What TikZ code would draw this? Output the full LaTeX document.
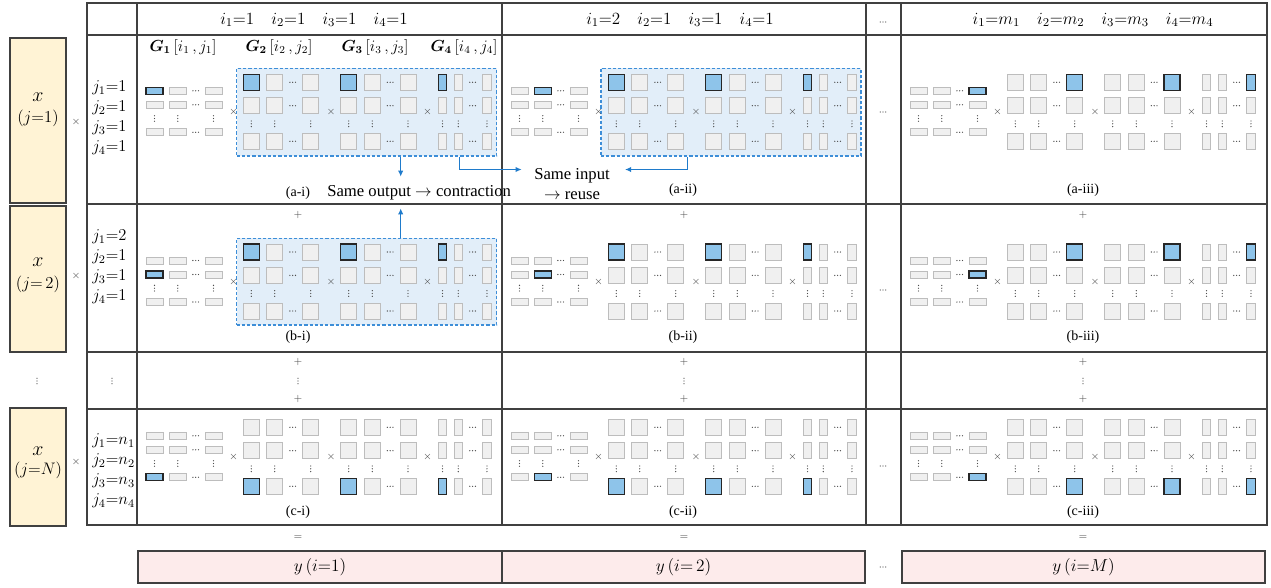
\RequirePackage{fix-cm}
\documentclass[tikz,border=0pt]{standalone}
\usepackage{amsmath}
\usepackage[no-math]{fontspec}
\setmainfont{Liberation Serif}
\usetikzlibrary{arrows.meta,fit}
\definecolor{hlblue}{HTML}{8EC4EA}
\definecolor{cellgray}{HTML}{F0F0F0}
\definecolor{cellline}{HTML}{BDBDBD}
\definecolor{dboxfill}{HTML}{E2EEF9}
\definecolor{dboxline}{HTML}{3D8ED8}
\definecolor{arrblue}{HTML}{1F7BCB}
\definecolor{xfill}{HTML}{FFF3D5}
\definecolor{yfill}{HTML}{FDEBEB}
\definecolor{tline}{HTML}{404040}
\tikzset{
 gcell/.style={fill=cellgray,draw=cellline,line width=0.75pt},
 hcell/.style={fill=hlblue,draw=black!85,line width=0.9pt},
 dbox/.style={draw=dboxline,fill=dboxfill,dash pattern=on 2.4pt off 1.5pt,line width=0.8pt,inner sep=0pt},
 arr/.style={draw=arrblue,line width=0.9pt,-{Latex[length=4.5pt,width=4pt]}},
 tab/.style={draw=tline,line width=1.1pt},
 xbox/.style={fill=xfill,draw=tline,line width=0.9pt},
 ybox/.style={fill=yfill,draw=tline,line width=1pt},
 dotc/.style={fill=black!70},
 sym/.style={text=black!70,font=\fontsize{7.5}{9}\selectfont,inner sep=0pt},
 hdr/.style={font=\fontsize{12.8}{14}\selectfont,inner sep=0pt},
 jlab/.style={font=\fontsize{12.4}{14}\selectfont,inner sep=0pt,anchor=west},
 glab/.style={font=\fontsize{12}{14}\selectfont,inner sep=0pt},
 xbig/.style={font=\fontsize{15}{16}\selectfont,inner sep=0pt},
 xsm/.style={font=\fontsize{12.5}{14}\selectfont,inner sep=0pt},
 clab/.style={font=\fontsize{10.5}{12}\selectfont,inner sep=0pt},
 note/.style={font=\fontsize{12.5}{14}\selectfont,inner sep=0pt},
 ylab/.style={font=\fontsize{13}{14}\selectfont,inner sep=0pt},
}
\newcommand\vdt[2]{\fill[dotc] ({#1},{#2-2.8}) circle (0.5pt) ({#1},{#2}) circle (0.5pt) ({#1},{#2+2.8}) circle (0.5pt);}
\newcommand\hdt[2]{\fill[dotc] ({#1-2.8},{#2}) circle (0.5pt) ({#1},{#2}) circle (0.5pt) ({#1+2.8},{#2}) circle (0.5pt);}
% #1 cell left, #2 top of G2 first row, #3/#4 G1 highlight row/col, #5/#6 G2-4 highlight row/col
\newcommand\mcell[6]{%
 \foreach \ci/\cx in {1/9,2/32.3,3/68}{%
  \foreach \rr/\ry in {1/13,2/27,3/54.5}{%
   \ifnum\rr=#3\relax\ifnum\ci=#4\relax\def\sty{hcell}\else\def\sty{gcell}\fi\else\def\sty{gcell}\fi
   \path[\sty] ({#1+\cx},{#2+\ry}) rectangle ++(17,7);
  }%
  \vdt{#1+\cx+8.5}{#2+44.2}%
 }%
 \foreach \ry in {16.5,30.5,58}{\hdt{#1+58.7}{#2+\ry}}%
 \foreach \mx/\mw/\ca/\cb/\cz in {106.3/16/0/23.4/59.4,203.7/16/0/23.6/59.3,301.3/8.5/0/15.7/44.4}{%
  \foreach \kk/\ox in {1/\ca,2/\cb,3/\cz}{%
   \foreach \rr/\ry in {1/0,2/23.4,3/59}{%
     \ifnum\rr=#5\relax\ifnum\kk=#6\relax\def\sty{hcell}\else\def\sty{gcell}\fi\else\def\sty{gcell}\fi
     \path[\sty] ({#1+\mx+\ox},{#2+\ry}) rectangle ++(\mw,16);
   }%
   \vdt{#1+\mx+\ox+\mw/2}{#2+49.5}%
  }%
  \foreach \ry in {8,31.4,67}{\hdt{#1+\mx+(\cb+\mw+\cz)/2}{#2+\ry}}%
 }%
 \foreach \xx [count=\n] in {96.5,194,290.7}{\node[sym] (tm\n) at ({#1+\xx},{#2+38}) {$\times$};}%
}
\begin{document}
\begin{tikzpicture}[x=0.75pt,y=-0.75pt]
\useasboundingbox (0,0) rectangle (1271,587);
% table
\draw[tab] (87,3) rectangle (1267,525);
\foreach \yy in {35,204,352,409} \draw[tab] (87,\yy) -- (1267,\yy);
\foreach \xx in {137,502,866,901} \draw[tab] (\xx,3) -- (\xx,525);
% x boxes
\path[xbox] (10,38) rectangle (66,203);
\path[xbox] (10,206) rectangle (66,352);
\path[xbox] (10,408) rectangle (66,526);
\node[xbig] (xa1) at (38,97) {$x$};
\node[xsm] (xa2) at (38,118) {$(j{=}1)$};
\node[xbig] (xb1) at (38,262) {$x$};
\node[xsm] (xb2) at (38,284) {$(j{=}\,2)$};
\node[xbig] (xc1) at (38,451) {$x$};
\node[xsm] (xc2) at (38,470) {$(j{=}N)$};
\node[sym] (xm1) at (76,122) {$\times$};
\node[sym] (xm2) at (76,276) {$\times$};
\node[sym] (xm3) at (76,462) {$\times$};
\vdt{37}{381}
\vdt{112}{381}
% headers
\node[hdr] (h1) at (314,20) {$i_1{=}1\quad i_2{=}1\quad i_3{=}1\quad i_4{=}1$};
\node[hdr] (h2) at (680,20) {$i_1{=}2\quad i_2{=}1\quad i_3{=}1\quad i_4{=}1$};
\node[hdr] (h3) at (1093,20) {$i_1{=}m_1\quad i_2{=}m_2\quad i_3{=}m_3\quad i_4{=}m_4$};
\hdt{883}{22}
% j labels
\node[jlab] (ja1) at (92,88) {$j_1{=}1$};
\node[jlab] (ja2) at (92,108) {$j_2{=}1$};
\node[jlab] (ja3) at (92,128) {$j_3{=}1$};
\node[jlab] (ja4) at (92,148) {$j_4{=}1$};
\node[jlab] (jb1) at (92,237) {$j_1{=}2$};
\node[jlab] (jb2) at (92,257) {$j_2{=}1$};
\node[jlab] (jb3) at (92,277) {$j_3{=}1$};
\node[jlab] (jb4) at (92,297) {$j_4{=}1$};
\node[jlab] (jc1) at (92,441) {$j_1{=}n_1$};
\node[jlab] (jc2) at (92,461) {$j_2{=}n_2$};
\node[jlab] (jc3) at (92,481) {$j_3{=}n_3$};
\node[jlab] (jc4) at (92,501) {$j_4{=}n_4$};
% G labels
\node[glab] (g1) at (183,47) {$\boldsymbol{G}_{\mathbf{1}}\,[i_1\,,j_1]$};
\node[glab] (g2) at (279,47) {$\boldsymbol{G}_{\mathbf{2}}\,[i_2\,,j_2]$};
\node[glab] (g3) at (375,47) {$\boldsymbol{G}_{\mathbf{3}}\,[i_3\,,j_3]$};
\node[glab] (g4) at (464,47) {$\boldsymbol{G}_{\mathbf{4}}\,[i_4\,,j_4]$};
% dashed boxes
\node[dbox,fit={(236.7,68.3)(496.7,156)}] (boxai) {};
\node[dbox,fit={(601,68.3)(861,156)}] (boxaii) {};
\node[dbox,fit={(236.7,238.3)(496.7,325)}] (boxbi) {};
% cells
\mcell{137}{74.3}{1}{1}{1}{1}
\mcell{502}{74.3}{1}{2}{1}{1}
\mcell{901}{74.3}{1}{3}{1}{3}
\mcell{137}{244}{2}{1}{1}{1}
\mcell{502}{244}{2}{2}{1}{1}
\mcell{901}{244}{2}{3}{1}{3}
\mcell{137}{419.3}{3}{1}{3}{1}
\mcell{502}{419.3}{3}{2}{3}{1}
\mcell{901}{419.3}{3}{3}{3}{3}
% cell labels
\node[clab,anchor=base] (lai) at (298,196) {(a-i)};
\node[clab] (laii) at (683,190) {(a-ii)};
\node[clab] (laiii) at (1083,190) {(a-iii)};
\node[clab] (lbi) at (298,336.7) {(b-i)};
\node[clab] (lbii) at (683,336.7) {(b-ii)};
\node[clab] (lbiii) at (1083,336.7) {(b-iii)};
\node[clab] (lci) at (298,512.5) {(c-i)};
\node[clab] (lcii) at (683,512.5) {(c-ii)};
\node[clab] (lciii) at (1083,512.5) {(c-iii)};
% plus / dots / equals
\foreach \xx [count=\n] in {298,684,1083}{
  \node[sym] (pt\n) at (\xx,215) {$+$};
  \node[sym] (pa\n) at (\xx,362) {$+$};
  \vdt{\xx}{381}
  \node[sym] (pb\n) at (\xx,399) {$+$};
  \node[sym] (eq\n) at (\xx,538) {$=$};
}
\hdt{883}{112}
\hdt{883}{290}
\hdt{883}{466}
\hdt{883}{567}
% y boxes
\path[ybox] (138,551) rectangle (502,583);
\path[ybox] (502,551) rectangle (865,583);
\path[ybox] (902,551) rectangle (1265,583);
\node[ylab] (y1) at (320,567) {$y\,(i{=}1)$};
\node[ylab] (y2) at (683.5,567) {$y\,(i{=}\,2)$};
\node[ylab] (y3) at (1083.5,567) {$y\,(i{=}M)$};
% notes
\node[note,anchor=base west] (nout) at (327,196) {Same output $\rightarrow$ contraction};
\node[note,anchor=base] (nin1) at (572,179.5) {Same input};
\node[note,anchor=base] (nin2) at (572,199.5) {$\rightarrow$ reuse};
% arrows
\coordinate (ta) at (400.7,176.7);
\draw[arr] (ta |- boxai.south) -- (ta);
\coordinate (tb) at (400.7,208.3);
\draw[arr] (tb |- boxbi.north) -- (tb);
\coordinate (kc) at (459.3,169.5);
\coordinate (tc) at (521.7,169.5);
\draw[arr] (kc |- boxai.south) -- (kc) -- (tc);
\coordinate (kd) at (687.7,169.5);
\coordinate (td) at (625,169.5);
\draw[arr] (kd |- boxaii.south) -- (kd) -- (td);
\end{tikzpicture}
\end{document}
